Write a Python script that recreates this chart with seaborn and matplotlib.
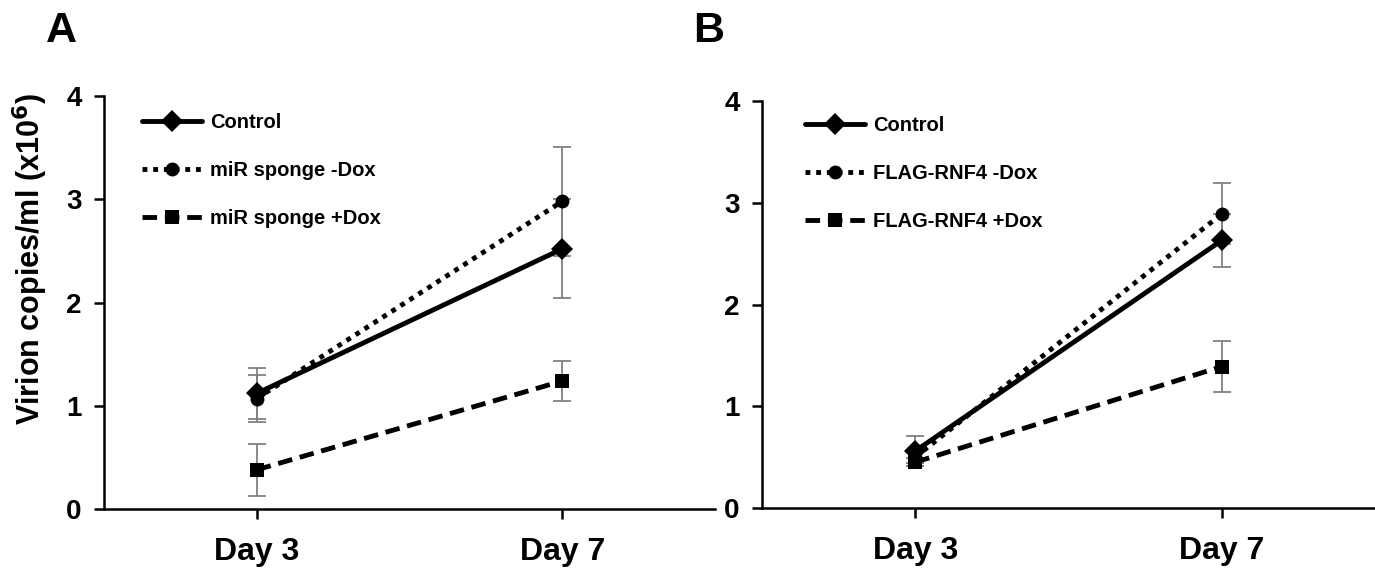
import matplotlib
matplotlib.use("Agg")
import matplotlib.pyplot as plt
import seaborn as sns
import pandas as pd

# data (x10^6 virion copies/ml)
days = ["Day 3", "Day 7"]

a_labels = ["Control", "miR sponge -Dox", "miR sponge +Dox"]
a_control = [1.12, 2.52]
a_control_err = [0.25, 0.48]
a_minus = [1.07, 2.98]
a_minus_err = [0.23, 0.53]
a_plus = [0.38, 1.24]
a_plus_err = [0.25, 0.19]

b_labels = ["Control", "FLAG-RNF4 -Dox", "FLAG-RNF4 +Dox"]
b_control = [0.56, 2.63]
b_control_err = [0.15, 0.26]
b_minus = [0.50, 2.89]
b_minus_err = [0.06, 0.30]
b_plus = [0.45, 1.39]
b_plus_err = [0.04, 0.25]

sns.set_theme(style="ticks")
plt.rcParams["font.family"] = ["Liberation Sans", "DejaVu Sans"]
plt.rcParams["font.weight"] = "bold"
plt.rcParams["axes.linewidth"] = 1.8
for key in ["text.color", "axes.labelcolor", "xtick.color", "ytick.color",
            "axes.edgecolor"]:
    plt.rcParams[key] = "black"

fig = plt.figure(figsize=(13.75, 5.69), dpi=100)
ax_a = fig.add_axes([0.0756, 0.1054, 0.4444, 0.7258])
ax_b = fig.add_axes([0.5542, 0.1072, 0.4458, 0.7153])

marker_sizes = {"D": 11, "o": 10, "s": 9.5}


def panel(ax, labels, means, errs, legend_xy):
    rows = []
    for lab, m in zip(labels, means):
        for d, v in zip(days, m):
            rows.append({"day": d, "value": v, "group": lab})
    df = pd.DataFrame(rows)

    # error bars first so the markers sit on top
    for m, e in zip(means, errs):
        ax.errorbar(days, m, yerr=e, fmt="none", ecolor="#808080",
                    elinewidth=1.3, capsize=6.5, capthick=1.3, zorder=1)

    sns.lineplot(data=df, x="day", y="value", style="group",
                 style_order=labels, color="black", linewidth=3.5,
                 markers={labels[0]: "D", labels[1]: "o", labels[2]: "s"},
                 dashes={labels[0]: "", labels[1]: (1, 1.2), labels[2]: (3, 1.6)},
                 markersize=10, markeredgewidth=0, ax=ax, zorder=3)
    for ln in ax.lines:
        mk = ln.get_marker()
        if mk in marker_sizes:
            ln.set_markersize(marker_sizes[mk])

    ax.set_xlim(-0.5, 1.5)
    ax.set_ylim(0, 4)
    ax.set_yticks([0, 1, 2, 3, 4])
    ax.set_xlabel("")
    ax.set_ylabel("")
    ax.tick_params(axis="x", length=7, width=1.8, pad=13, labelsize=23)
    ax.tick_params(axis="y", length=7, width=1.8, pad=9, labelsize=20)
    for lbl in ax.get_xticklabels() + ax.get_yticklabels():
        lbl.set_fontweight("bold")
    sns.despine(ax=ax)

    handles, labs = ax.get_legend_handles_labels()
    for h in handles:
        mk = h.get_marker()
        if mk in marker_sizes:
            h.set_markersize(marker_sizes[mk])
    ax.legend(handles, labs, loc="upper left", bbox_to_anchor=legend_xy,
              frameon=False, handlelength=3.0, handletextpad=0.4,
              labelspacing=1.45, borderpad=0, borderaxespad=0,
              prop={"weight": "bold", "size": 14.5})


panel(ax_a, a_labels, [a_control, a_minus, a_plus],
      [a_control_err, a_minus_err, a_plus_err], (0.062, 0.96))
panel(ax_b, b_labels, [b_control, b_minus, b_plus],
      [b_control_err, b_minus_err, b_plus_err], (0.07, 0.963))

ax_a.set_ylabel("Virion copies/ml (x10$^{\\mathbf{6}}$)", fontsize=22,
                fontweight="bold")
ax_a.yaxis.set_label_coords(-0.088, 0.605)

fig.text(0.045, 0.945, "A", fontsize=31, fontweight="bold", ha="center", va="center")
fig.text(0.5155, 0.945, "B", fontsize=31, fontweight="bold", ha="center", va="center")

fig.savefig("out.png", dpi=100)
